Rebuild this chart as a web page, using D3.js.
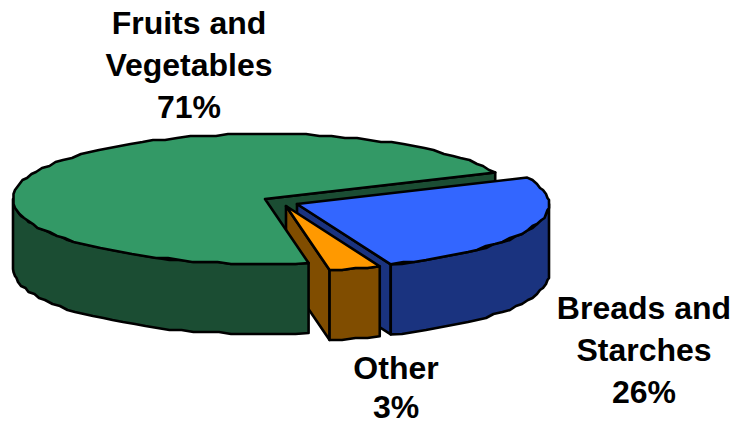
<!DOCTYPE html>
<html><head><meta charset="utf-8">
<script src="https://cdn.jsdelivr.net/npm/d3@7/dist/d3.min.js"></script>
<style>html,body{margin:0;padding:0;background:#fff}svg{display:block}</style>
</head><body><svg id="c" width="734" height="425"></svg>
<script>
const categories = ["Fruits and Vegetables", "Breads and Starches", "Other"];
const values = [71.1, 25.6, 3.3];
const topColors = ["#339966", "#3366FF", "#FF9900"];
const sideColors = ["#1B4D33", "#1A337F", "#804D00"];
const labelLines = [["Fruits and", "Vegetables", "71%"], ["Breads and", "Starches", "26%"], ["Other", "3%"]];
const labelCenters = [[189, 34], [644, 319], [396, 379]];
const labelSteps = [42, 42, 39];
const apexes = [[265, 199], [297, 204], [286, 206]];
const radiusX = 252, radiusY = 65, depth = 70;

const svg = d3.select("#c");
const deg = Math.PI / 180;
// clockwise on screen from the gap at -24deg: Blue, Other, Green
const order = [1, 2, 0];
const pie = d3.pie().sort(null).value(d => d).startAngle(-24 * deg).endAngle(336 * deg);
const arcs = pie(order.map(i => values[i]));
const slices = {};
order.forEach((i, k) => slices[i] = arcs[k]);

const sx = d3.scaleLinear().domain([-1, 1]).range([-radiusX, radiusX]);
const sy = d3.scaleLinear().domain([-1, 1]).range([-radiusY, radiusY]);
const line = d3.line().curve(d3.curveLinear);
const pt = (i, t, dz = 0) => [apexes[i][0] + sx(Math.cos(t)), apexes[i][1] + sy(Math.sin(t)) + dz];
const snap = p => [Math.round(p[0] / 1.5) * 1.5, Math.round(p[1] / 2) * 2];

function rim(i, a, b, dz = 0) {
  const n = Math.max(2, Math.ceil(Math.abs(b - a) / (3 * deg)));
  return d3.range(n + 1).map(k => {
    const t = a + (b - a) * k / n;
    const p = pt(i, t, dz);
    return (k === 0 || k === n) ? p : snap(p);
  });
}
const draw = (pts, fill) => svg.append("path")
  .attr("d", line(pts) + "Z").attr("fill", fill)
  .attr("stroke", "#000").attr("stroke-width", 2.6).attr("stroke-linejoin", "round");
const wall = (i, t) => {
  const a = apexes[i], e = pt(i, t);
  draw([a, e, [e[0], e[1] + depth], [a[0], a[1] + depth]], sideColors[i]);
};
const front = (i, a, b) => draw(rim(i, a, b).concat(rim(i, b, a, depth)), sideColors[i]);
const topFace = (i, a, b) => draw([apexes[i]].concat(rim(i, a, b)), topColors[i]);

const g = slices[0], b = slices[1], o = slices[2];
// painter's order, back to front
wall(0, g.endAngle);
wall(1, b.endAngle);
wall(2, o.endAngle);
front(0, g.startAngle, Math.PI);
topFace(0, g.startAngle, g.endAngle);
front(2, o.startAngle, o.endAngle);
topFace(2, o.startAngle, o.endAngle);
front(1, 0, b.endAngle);
topFace(1, b.startAngle, b.endAngle);

labelLines.forEach((ls, i) => {
  ls.forEach((s, k) => svg.append("text")
    .attr("x", labelCenters[i][0]).attr("y", labelCenters[i][1] + k * labelSteps[i])
    .attr("text-anchor", "middle")
    .attr("font-family", "'Liberation Sans', Arial, sans-serif")
    .attr("font-weight", "bold").attr("font-size", 32).attr("fill", "#000")
    .text(s));
});
</script></body></html>
